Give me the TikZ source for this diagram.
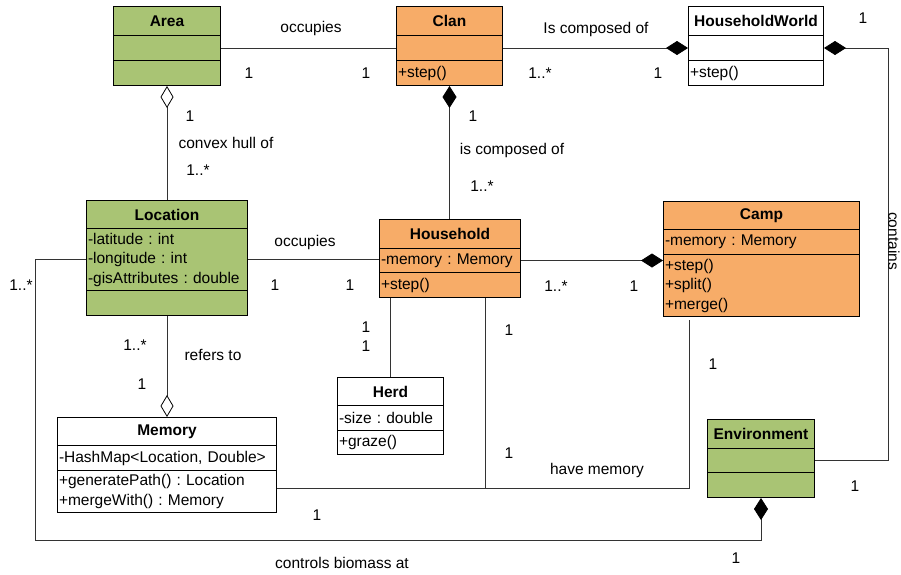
\documentclass[tikz,border=0pt]{standalone}
\usepackage{fontspec}
\setmainfont{Liberation Sans}
\usetikzlibrary{arrows.meta}
\definecolor{grn}{RGB}{169,196,116}
\definecolor{org}{RGB}{247,172,104}
\newcommand{\lblfont}{\fontsize{15.5}{19.5}\selectfont}
\frenchspacing
\tikzset{
  cls/.style={draw, line width=1pt, anchor=north west, inner xsep=1.5pt, inner ysep=0pt, align=left, font=\lblfont},
  hdr/.style={cls, align=center, font=\lblfont\bfseries},
  boxw/.style={minimum width=#1pt, text width=#1pt-3pt},
  lbl/.style={font=\lblfont, inner sep=0pt},
  assoc/.style={line width=0.8pt, black!80},
  FD/.tip={Diamond[length=22pt,width=14pt,color=black,fill=black]},
  OD/.tip={Diamond[open,length=22pt,width=13pt,color=black,fill=white]},
}
\begin{document}
\begin{tikzpicture}[x=1pt, y=-1pt]
\useasboundingbox (0,0) rectangle (901,574);
\node[hdr, fill=grn, boxw=107, minimum height=29] (area) at (113,6) {Area};
\node[cls, fill=grn, boxw=107, minimum height=25] (areaA) at (113,35) {};
\node[cls, fill=grn, boxw=107, minimum height=25] (areaB) at (113,60) {};
\node[hdr, fill=org, boxw=106, minimum height=29] (clan) at (396,6) {Clan};
\node[cls, fill=org, boxw=106, minimum height=25] (clanA) at (396,35) {};
\node[cls, fill=org, boxw=106, minimum height=25] (clanB) at (396,60) {+step()};
\node[hdr, fill=white, boxw=135, minimum height=29] (hw) at (688,6) {HouseholdWorld};
\node[cls, fill=white, boxw=135, minimum height=25] (hwA) at (688,35) {};
\node[cls, fill=white, boxw=135, minimum height=25] (hwB) at (688,60) {+step()};
\node[hdr, fill=grn, boxw=161, minimum height=28] (loc) at (86,200) {Location};
\node[cls, fill=grn, boxw=161, minimum height=62] (locA) at (86,228) {-latitude : int\\-longitude : int\\-gisAttributes : double};
\node[cls, fill=grn, boxw=161, minimum height=25] (locB) at (86,290) {};
\node[hdr, fill=org, boxw=141, minimum height=29] (hh) at (379,219) {Household};
\node[cls, fill=org, boxw=141, minimum height=24] (hhA) at (379,248) {-memory : Memory};
\node[cls, fill=org, boxw=141, minimum height=25] (hhB) at (379,272) {+step()};
\node[hdr, fill=org, boxw=196, minimum height=28] (camp) at (663,201) {Camp};
\node[cls, fill=org, boxw=196, minimum height=25] (campA) at (663,229) {-memory : Memory};
\node[cls, fill=org, boxw=196, minimum height=62] (campB) at (663,254) {+step()\\+split()\\+merge()};
\node[hdr, fill=white, boxw=106, minimum height=28] (herd) at (337,377) {Herd};
\node[cls, fill=white, boxw=106, minimum height=25] (herdA) at (337,405) {-size : double};
\node[cls, fill=white, boxw=106, minimum height=24] (herdB) at (337,430) {+graze()};
\node[hdr, fill=white, boxw=219, minimum height=28] (mem) at (57,417) {Memory};
\node[cls, fill=white, boxw=219, minimum height=25] (memA) at (57,445) {-HashMap<Location, Double>};
\node[cls, fill=white, boxw=219, minimum height=42] (memB) at (57,470) {+generatePath() : Location\\+mergeWith() : Memory};
\node[hdr, fill=grn, boxw=107, minimum height=29] (env) at (707,419) {Environment};
\node[cls, fill=grn, boxw=107, minimum height=24] (envA) at (707,448) {};
\node[cls, fill=grn, boxw=107, minimum height=25] (envB) at (707,472) {};
\coordinate (hwR) at (888,0);
\coordinate (hmHH) at (485,488);
\coordinate (hmCamp) at (689,488);
\coordinate (cbL) at (35,540);
\draw[assoc] (areaA.east) -- (clanA.west);
\draw[assoc, -FD] (clanA.east) -- (hwA.west);
\draw[assoc, FD-] (hwA.east) -- (hwA.east -| hwR) |- (envA.east);
\draw[assoc, FD-] (clanB.south) -- (clanB.south |- hh.north);
\draw[assoc, OD-] (areaB.south) -- (loc.north);
\draw[assoc] (locA.east) -- (locA.east -| hhA.west);
\draw[assoc, -FD] (hhA.east) -- (hhA.east -| campB.west);
\draw[assoc] (hhB.south -| herd.north) -- (herd.north);
\draw[assoc, -OD] (locB.south) -- (mem.north);
\draw[assoc, shorten >=3pt] (memB.east |- hmCamp) -- (hmCamp) -- (hmCamp |- campB.south);
\draw[assoc] (hmHH) -- (hmHH |- hhB.south);
\draw[assoc, FD-] (envB.south) |- (cbL) |- (locA.west);
\node[lbl] (occA) at (311,28) {occupies};
\node[lbl] (occA1) at (249,73) {1};
\node[lbl] (occA2) at (366,73) {1};
\node[lbl] (compA) at (596,29) {Is composed of};
\node[lbl] (compA1) at (540,73) {1..*};
\node[lbl] (compA2) at (658,73) {1};
\node[lbl] (cont1) at (863,18) {1};
\node[lbl, rotate=-90] (cont) at (894,241) {contains};
\node[lbl] (cont2) at (855,486) {1};
\node[lbl] (hull1) at (190,116) {1};
\node[lbl] (hull) at (226,143) {convex hull of};
\node[lbl] (hull2) at (198,170) {1..*};
\node[lbl] (compB1) at (473,116) {1};
\node[lbl] (compB) at (512,150) {is composed of};
\node[lbl] (compB2) at (482,186) {1..*};
\node[lbl] (occB) at (305,242) {occupies};
\node[lbl] (occB1) at (275,285) {1};
\node[lbl] (occB2) at (350,285) {1};
\node[lbl] (campM1) at (556,286) {1..*};
\node[lbl] (campM2) at (634,286) {1};
\node[lbl] (herd1) at (366,327) {1};
\node[lbl] (herd2) at (366,346) {1};
\node[lbl] (ref1) at (135,345) {1..*};
\node[lbl] (ref) at (213,355) {refers to};
\node[lbl] (ref2) at (142,384) {1};
\node[lbl] (hm1) at (509,330) {1};
\node[lbl] (hm2) at (713,364) {1};
\node[lbl] (hm3) at (509,453) {1};
\node[lbl] (hm) at (597,470) {have memory};
\node[lbl] (hm4) at (317,515) {1};
\node[lbl] (bio1) at (21,285) {1..*};
\node[lbl] (bio2) at (736,558) {1};
\node[lbl] (bio) at (342,563) {controls biomass at};
\end{tikzpicture}
\end{document}
